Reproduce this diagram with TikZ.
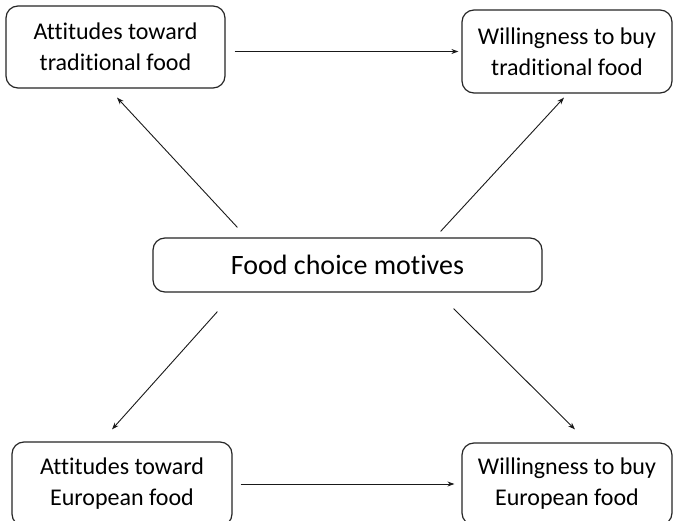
\documentclass[tikz,border=0pt]{standalone}
\usepackage{fontspec}
\setmainfont[Ligatures=NoCommon]{Carlito}
\usetikzlibrary{arrows.meta,calc}
\begin{document}
\begin{tikzpicture}[x=1pt,y=-1pt,
  box/.style={draw=black!85, line width=1.2pt, rounded corners=12pt, align=center,
    inner sep=0pt, font=\fontsize{24}{31}\selectfont},
  arr/.style={draw=black!90, line width=0.9pt, -{Stealth[length=7pt,width=5pt]}}]
  \clip (0,0) rectangle (673,521);
  \fill[white] (0,0) rectangle (673,521);
  % boxes
  \node[box, minimum width=219pt, minimum height=82pt] (tl) at (115.5,47) {Attitudes toward\\traditional food};
  \node[box, minimum width=210pt, minimum height=83pt] (tr) at (567,51.5) {Willingness to buy\\traditional food};
  \node[box, minimum width=389pt, minimum height=54pt, font=\fontsize{28}{34}\selectfont] (c) at (347.5,265) {Food choice motives};
  \node[box, minimum width=220pt, minimum height=84pt] (bl) at (122,484) {Attitudes toward\\European food};
  \node[box, minimum width=210pt, minimum height=82pt] (br) at (567,484) {Willingness to buy\\European food};
  % horizontal links
  \draw[arr, shorten <=9pt, shorten >=3pt] (tl.east |- tr.west) -- (tr.west);
  \draw[arr, shorten <=8pt, shorten >=7pt] (bl.east) -- (br.west);
  % links from the motives box
  \draw[arr] ($(c.north west)+(85,-10)$) -- ($(tl.south)+(1.5,9)$);
  \draw[arr] ($(c.north east)+(-102,-6)$) -- ($(tr.south)+(-3,4)$);
  \draw[arr] ($(c.south west)+(65,19)$) -- ($(bl.north)+(-10,-12)$);
  \draw[arr] ($(c.south east)+(-89,16)$) -- ($(br.north)+(8,-13)$);
\end{tikzpicture}
\end{document}
